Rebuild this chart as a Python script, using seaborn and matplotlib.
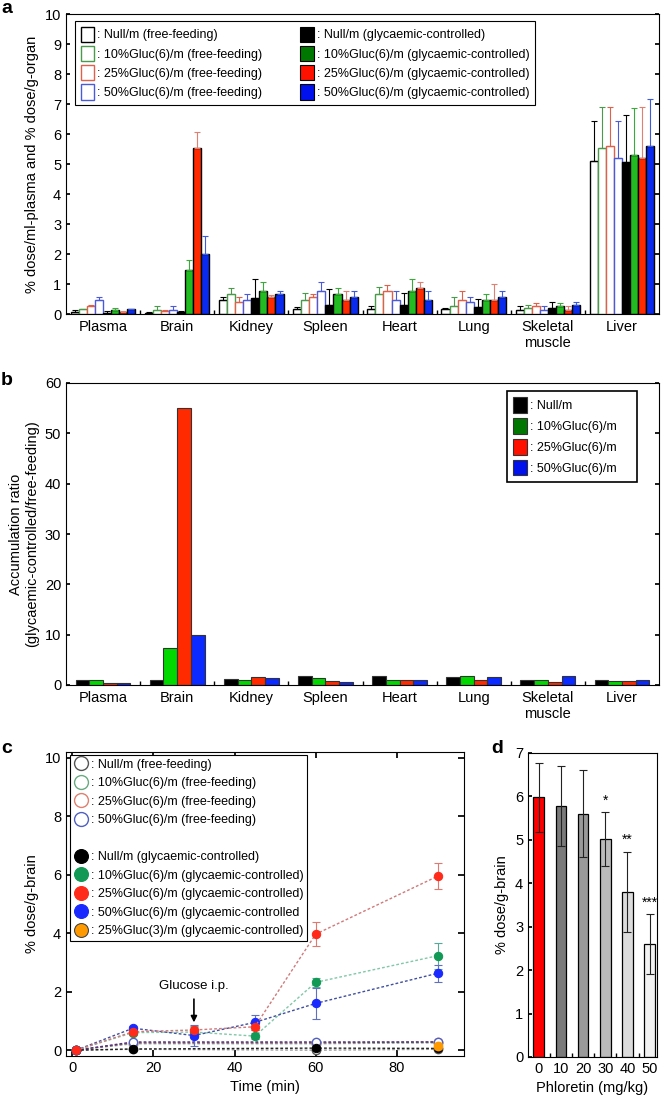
import matplotlib
matplotlib.use("Agg")
import matplotlib.pyplot as plt
from matplotlib.patches import Patch
from matplotlib.lines import Line2D
import numpy as np
import pandas as pd
import seaborn as sns

sns.set_theme(style="ticks")
plt.rcParams["font.family"] = ["Liberation Sans", "DejaVu Sans"]
plt.rcParams.update({
    "xtick.direction": "in", "ytick.direction": "in",
    "axes.edgecolor": "black", "axes.linewidth": 0.8,
    "xtick.color": "black", "ytick.color": "black",
    "text.color": "black", "axes.labelcolor": "black",
    "xtick.labelsize": 10.5, "ytick.labelsize": 10.5,
})

# ---------------------------------------------------------------- data
ORGANS = ["Plasma", "Brain", "Kidney", "Spleen", "Heart", "Lung", "Skeletal\nmuscle", "Liver"]

# panel a: mean and upper error per organ
NULL_FF = [0.07, 0.05, 0.47, 0.16, 0.16, 0.16, 0.14, 5.10]
NULL_FF_ERR = [0.06, 0.03, 0.11, 0.08, 0.11, 0.05, 0.12, 1.33]
G10_FF = [0.16, 0.13, 0.67, 0.47, 0.66, 0.26, 0.19, 5.52]
G10_FF_ERR = [0.02, 0.14, 0.19, 0.24, 0.25, 0.32, 0.11, 1.39]
G25_FF = [0.28, 0.10, 0.39, 0.58, 0.77, 0.47, 0.26, 5.61]
G25_FF_ERR = [0.02, 0.03, 0.19, 0.08, 0.20, 0.30, 0.12, 1.30]
G50_FF = [0.47, 0.13, 0.47, 0.77, 0.47, 0.39, 0.14, 5.21]
G50_FF_ERR = [0.11, 0.14, 0.19, 0.31, 0.30, 0.19, 0.12, 1.22]
NULL_GC = [0.05, 0.07, 0.54, 0.29, 0.29, 0.24, 0.19, 5.08]
NULL_GC_ERR = [0.06, 0.02, 0.63, 0.53, 0.40, 0.25, 0.22, 1.55]
G10_GC = [0.13, 1.48, 0.77, 0.66, 0.77, 0.47, 0.28, 5.30]
G10_GC_ERR = [0.07, 0.31, 0.31, 0.20, 0.40, 0.19, 0.09, 1.56]
G25_GC = [0.07, 5.52, 0.57, 0.47, 0.86, 0.47, 0.14, 5.21]
G25_GC_ERR = [0.02, 0.54, 0.06, 0.30, 0.22, 0.54, 0.12, 1.68]
G50_GC = [0.16, 1.99, 0.66, 0.58, 0.47, 0.58, 0.31, 5.61]
G50_GC_ERR = [0.02, 0.60, 0.11, 0.19, 0.30, 0.19, 0.09, 1.55]

# panel b: accumulation ratio
RATIO_NULL = [1.0, 1.0, 1.2, 1.7, 1.7, 1.5, 1.05, 0.95]
RATIO_G10 = [1.0, 7.4, 1.0, 1.4, 1.0, 1.7, 1.05, 0.8]
RATIO_G25 = [0.35, 55.0, 1.5, 0.8, 1.0, 1.05, 0.6, 0.8]
RATIO_G50 = [0.3, 10.0, 1.4, 0.65, 1.0, 1.5, 1.7, 0.95]

# panel c: brain uptake time course
TIME_ALL = [1, 15, 30, 45, 60, 90]
TIME_FF = [1, 15, 60, 90]
NULL_FF_C = [0.0, 0.03, 0.0, 0.03]
G10_FF_C = [0.0, 0.22, 0.22, 0.25]
G25_FF_C = [0.0, 0.25, 0.25, 0.28]
G50_FF_C = [0.0, 0.28, 0.28, 0.28]
NULL_GC_C = [0.0, 0.04, 0.07, 0.06]
G10_GC_C = [0.0, 0.60, 0.62, 0.48, 2.32, 3.23]
G10_GC_C_ERR = [0.0, 0.08, 0.20, 0.10, 0.15, 0.45]
G25_GC_C = [0.0, 0.63, 0.69, 0.80, 3.97, 5.95]
G25_GC_C_ERR = [0.0, 0.08, 0.10, 0.10, 0.40, 0.45]
G50_GC_C = [0.0, 0.75, 0.50, 0.95, 1.60, 2.63]
G50_GC_C_ERR = [0.0, 0.08, 0.36, 0.25, 0.54, 0.30]
TIME_G3 = [90]
G25_G3_C = [0.15]
G25_G3_C_ERR = [0.10]

# panel d: phloretin inhibition
PHLORETIN = ["0", "10", "20", "30", "40", "50"]
PHLO_MEAN = [5.98, 5.77, 5.60, 5.02, 3.80, 2.60]
PHLO_ERR = [0.80, 0.92, 1.00, 0.62, 0.93, 0.70]
PHLO_SIG = ["", "", "", "*", "**", "***"]

# ---------------------------------------------------------------- styles
LABELS_FF = [": Null/m (free-feeding)", ": 10%Gluc(6)/m (free-feeding)",
             ": 25%Gluc(6)/m (free-feeding)", ": 50%Gluc(6)/m (free-feeding)"]
LABELS_GC = [": Null/m (glycaemic-controlled)", ": 10%Gluc(6)/m (glycaemic-controlled)",
             ": 25%Gluc(6)/m (glycaemic-controlled)", ": 50%Gluc(6)/m (glycaemic-controlled)"]
FF_EDGE = ["#000000", "#4a9a4a", "#e0604a", "#4a5ad8"]
GC_FILL = ["#000000", "#22bb22", "#ff2a00", "#0a2aee"]
GC_LEG = ["#000000", "#007700", "#ff1100", "#0011ee"]
GC_ERR = ["#000000", "#3aaa3a", "#e08070", "#3a5ae0"]

fig = plt.figure(figsize=(6.62, 10.97), dpi=100)


def panel_label(x, y, s):
    fig.text(x / 662, 1 - y / 1097, s, fontsize=14, fontweight="bold", va="top", ha="left")


# ---------------------------------------------------------------- panel a
ax_a = fig.add_axes([66 / 662, 1 - 314 / 1097, 593 / 662, 300 / 1097])
means_a = [NULL_FF, G10_FF, G25_FF, G50_FF, NULL_GC, G10_GC, G25_GC, G50_GC]
errs_a = [NULL_FF_ERR, G10_FF_ERR, G25_FF_ERR, G50_FF_ERR,
          NULL_GC_ERR, G10_GC_ERR, G25_GC_ERR, G50_GC_ERR]
labels_a = LABELS_FF + LABELS_GC
df_a = pd.DataFrame([
    {"organ": o, "group": g, "value": v}
    for g, vals in zip(labels_a, means_a) for o, v in zip(ORGANS, vals)
])
fills_a = ["white"] * 4 + GC_FILL
edges_a = FF_EDGE + ["black"] * 4
ecol_a = FF_EDGE + GC_ERR
sns.barplot(data=df_a, x="organ", y="value", hue="group", order=ORGANS,
            hue_order=labels_a, palette=fills_a, width=0.87, gap=0,
            errorbar=None, saturation=1, legend=False, ax=ax_a, linewidth=1.0)
bar_conts = list(ax_a.containers)
for i, cont in enumerate(bar_conts):
    xs, ys = [], []
    for p in cont.patches:
        p.set_edgecolor(edges_a[i])
        xs.append(p.get_x() + p.get_width() / 2)
        ys.append(p.get_height())
    ax_a.errorbar(xs, ys, yerr=[np.zeros(len(ys)), errs_a[i]], fmt="none",
                  ecolor=ecol_a[i], elinewidth=0.8, capsize=2.2, capthick=0.8, zorder=1)
ax_a.set_xlim(-0.5, 7.5)
ax_a.set_ylim(0, 10)
ax_a.set_yticks(range(0, 11))
ax_a.set_xlabel("")
ax_a.set_ylabel("% dose/ml-plasma and % dose/g-organ", fontsize=10.5)
ax_a.tick_params(axis="x", which="major", length=0, pad=4)
ax_a.set_xticks(np.arange(0.5, 7.5, 1), minor=True)
ax_a.tick_params(axis="x", which="minor", length=3, bottom=True)
ax_a.tick_params(axis="y", right=True, length=3)
for sp in ax_a.spines.values():
    sp.set_visible(True)
h_a = [Patch(facecolor="white", edgecolor=c, linewidth=1) for c in FF_EDGE] + \
      [Patch(facecolor=c, edgecolor="black", linewidth=0.8) for c in GC_LEG]
leg = ax_a.legend(h_a, labels_a, ncol=2, loc="upper left", bbox_to_anchor=(0.015, 0.977),
                  borderaxespad=0, fontsize=9, frameon=True, fancybox=False,
                  edgecolor="black", framealpha=1, handlelength=1.1, handleheight=1.55,
                  handletextpad=0.25, columnspacing=3.0, labelspacing=0.28,
                  borderpad=0.45)
leg.get_frame().set_linewidth(0.8)
panel_label(1, 0, "a")

# ---------------------------------------------------------------- panel b
ax_b = fig.add_axes([66 / 662, 1 - 685 / 1097, 593 / 662, 302 / 1097])
labels_b = [": Null/m", ": 10%Gluc(6)/m", ": 25%Gluc(6)/m", ": 50%Gluc(6)/m"]
vals_b = [RATIO_NULL, RATIO_G10, RATIO_G25, RATIO_G50]
df_b = pd.DataFrame([
    {"organ": o, "group": g, "value": v}
    for g, vals in zip(labels_b, vals_b) for o, v in zip(ORGANS, vals)
])
fills_b = ["#000000", "#00d800", "#ff2a00", "#0a2aff"]
sns.barplot(data=df_b, x="organ", y="value", hue="group", order=ORGANS,
            hue_order=labels_b, palette=fills_b, width=0.74, gap=0,
            errorbar=None, saturation=1, legend=False, ax=ax_b,
            edgecolor="#333333", linewidth=0.8)
ax_b.set_xlim(-0.5, 7.5)
ax_b.set_ylim(0, 60)
ax_b.set_xlabel("")
ax_b.set_ylabel("Accumulation ratio\n(glycaemic-controlled/free-feeding)", fontsize=10.5)
ax_b.tick_params(axis="x", which="major", length=0, pad=4)
ax_b.set_xticks(np.arange(0.5, 7.5, 1), minor=True)
ax_b.tick_params(axis="x", which="minor", length=3, bottom=True)
ax_b.tick_params(axis="y", right=True, length=3)
for sp in ax_b.spines.values():
    sp.set_visible(True)
h_b = [Patch(facecolor=c, edgecolor="#333333", linewidth=0.8) for c in GC_LEG]
leg = ax_b.legend(h_b, [s + "    " for s in labels_b], loc="upper right",
                  bbox_to_anchor=(0.963, 0.974),
                  borderaxespad=0, fontsize=9, frameon=True, fancybox=False,
                  edgecolor="black", framealpha=1, handlelength=1.1, handleheight=1.55,
                  handletextpad=0.25, labelspacing=0.42, borderpad=0.5)
leg.get_frame().set_linewidth(1.2)
panel_label(1, 372, "b")

# ---------------------------------------------------------------- panel c
ax_c = fig.add_axes([66 / 662, 1 - 1056 / 1097, 398 / 662, 304 / 1097])
ff_series = [NULL_FF_C, G10_FF_C, G25_FF_C, G50_FF_C]
ff_edge_c = ["#555555", "#6aaa80", "#e08070", "#5060c0"]
ff_line_c = ["#999999", "#80b890", "#a05070", "#503080"]
for vals, ec, lc in zip(ff_series, ff_edge_c, ff_line_c):
    sns.lineplot(x=TIME_FF, y=vals, ax=ax_c, color=lc, linestyle=(0, (2, 1.5)),
                 linewidth=1.0, marker="o", markersize=6, markerfacecolor="white",
                 markeredgecolor=ec, markeredgewidth=1.0, zorder=2)
sns.lineplot(x=TIME_FF, y=NULL_GC_C, ax=ax_c, color="#222222", linestyle=(0, (2, 1.5)),
             linewidth=1.0, marker="o", markersize=6, markerfacecolor="black",
             markeredgecolor="black", zorder=3)
gc_series = [(G10_GC_C, G10_GC_C_ERR, "#119955", "#80c8a8", "#55aa99"),
             (G50_GC_C, G50_GC_C_ERR, "#1a2aff", "#4050a0", "#6070c0"),
             (G25_GC_C, G25_GC_C_ERR, "#ff2a1a", "#d07a7a", "#e07a70")]
for vals, errs, fc, lc, ecol in gc_series:
    ax_c.errorbar(TIME_ALL, vals, yerr=errs, fmt="none", ecolor=ecol,
                  elinewidth=0.8, capsize=3, capthick=0.8, zorder=3)
    sns.lineplot(x=TIME_ALL, y=vals, ax=ax_c, color=lc, linestyle=(0, (2, 1.5)),
                 linewidth=1.0, marker="o", markersize=6, markerfacecolor=fc,
                 markeredgecolor=fc, zorder=4)
ax_c.errorbar(TIME_G3, G25_G3_C, yerr=G25_G3_C_ERR, fmt="o", color="#ff9900",
              markersize=6, ecolor="#cc8844", elinewidth=0.8, capsize=3, zorder=4)
ax_c.set_xlim(-1.5, 96.5)
ax_c.set_ylim(-0.2, 10.2)
ax_c.set_xticks([0, 20, 40, 60, 80])
ax_c.set_yticks([0, 2, 4, 6, 8, 10])
ax_c.tick_params(axis="both", top=True, right=True, length=4, labelsize=10.5)
ax_c.set_xlabel("Time (min)", fontsize=10.5)
ax_c.set_ylabel("% dose/g-brain", fontsize=10.5)
for sp in ax_c.spines.values():
    sp.set_visible(True)
ax_c.annotate("Glucose i.p.", xy=(30, 0.95), xytext=(30, 2.0), ha="center", va="bottom",
              fontsize=9.5, arrowprops=dict(arrowstyle="-|>", color="black", lw=1.2,
                                            shrinkA=3, shrinkB=0, mutation_scale=9))
h_c = [Line2D([], [], linestyle="none", marker="o", markersize=10, markerfacecolor="white",
              markeredgecolor=c, markeredgewidth=1.0) for c in ff_edge_c]
h_c.append(Line2D([], [], linestyle="none"))
gc_leg_c = ["#000000", "#119955", "#ff2a1a", "#1a2aff", "#ff9900"]
h_c += [Line2D([], [], linestyle="none", marker="o", markersize=10, markerfacecolor=c,
               markeredgecolor="#444444" if i == 4 else c, markeredgewidth=0.8)
        for i, c in enumerate(gc_leg_c)]
labels_c = LABELS_FF + [""] + [": Null/m (glycaemic-controlled)",
                               ": 10%Gluc(6)/m (glycaemic-controlled)",
                               ": 25%Gluc(6)/m (glycaemic-controlled)",
                               ": 50%Gluc(6)/m (glycaemic-controlled",
                               ": 25%Gluc(3)/m (glycaemic-controlled)"]
leg = ax_c.legend(h_c, labels_c, loc="upper left", bbox_to_anchor=(0.009, 0.99),
                  borderaxespad=0, fontsize=9, frameon=True, fancybox=False,
                  edgecolor="black", framealpha=1, handlelength=1.2, handletextpad=0.2,
                  labelspacing=0.52, borderpad=0.3)
leg.get_frame().set_linewidth(0.8)
panel_label(1, 740, "c")

# ---------------------------------------------------------------- panel d
ax_d = fig.add_axes([528 / 662, 1 - 1057 / 1097, 129 / 662, 304 / 1097])
fills_d = ["#ff0000", "#7a7a7a", "#9a9a9a", "#bbbbbb", "#dcdcdc", "#f2f2f2"]
sns.barplot(x=PHLORETIN, y=PHLO_MEAN, hue=PHLORETIN, palette=fills_d, width=0.48,
            saturation=1, legend=False, errorbar=None, ax=ax_d,
            edgecolor="black", linewidth=0.9)
ax_d.errorbar(range(len(PHLO_MEAN)), PHLO_MEAN, yerr=PHLO_ERR, fmt="none",
              ecolor="#222222", elinewidth=0.8, capsize=3, capthick=0.8)
for i, (m, e, s) in enumerate(zip(PHLO_MEAN, PHLO_ERR, PHLO_SIG)):
    if s:
        ax_d.text(i, m + e + 0.1, s, ha="center", va="bottom", fontsize=10)
ax_d.set_xlim(-0.48, 5.33)
ax_d.set_ylim(0, 7)
ax_d.set_yticks(range(0, 8))
ax_d.tick_params(axis="x", which="major", length=0, labelsize=10.5)
ax_d.set_xticks(np.arange(0.5, 5.5, 1), minor=True)
ax_d.tick_params(axis="x", which="minor", length=3, bottom=True)
ax_d.tick_params(axis="y", length=3, labelsize=10.5)
ax_d.set_xlabel("Phloretin (mg/kg)", fontsize=10.5)
ax_d.set_ylabel("% dose/g-brain", fontsize=10.5)
for sp in ax_d.spines.values():
    sp.set_visible(True)
panel_label(491, 740, "d")

fig.savefig("out.png", dpi=100)
